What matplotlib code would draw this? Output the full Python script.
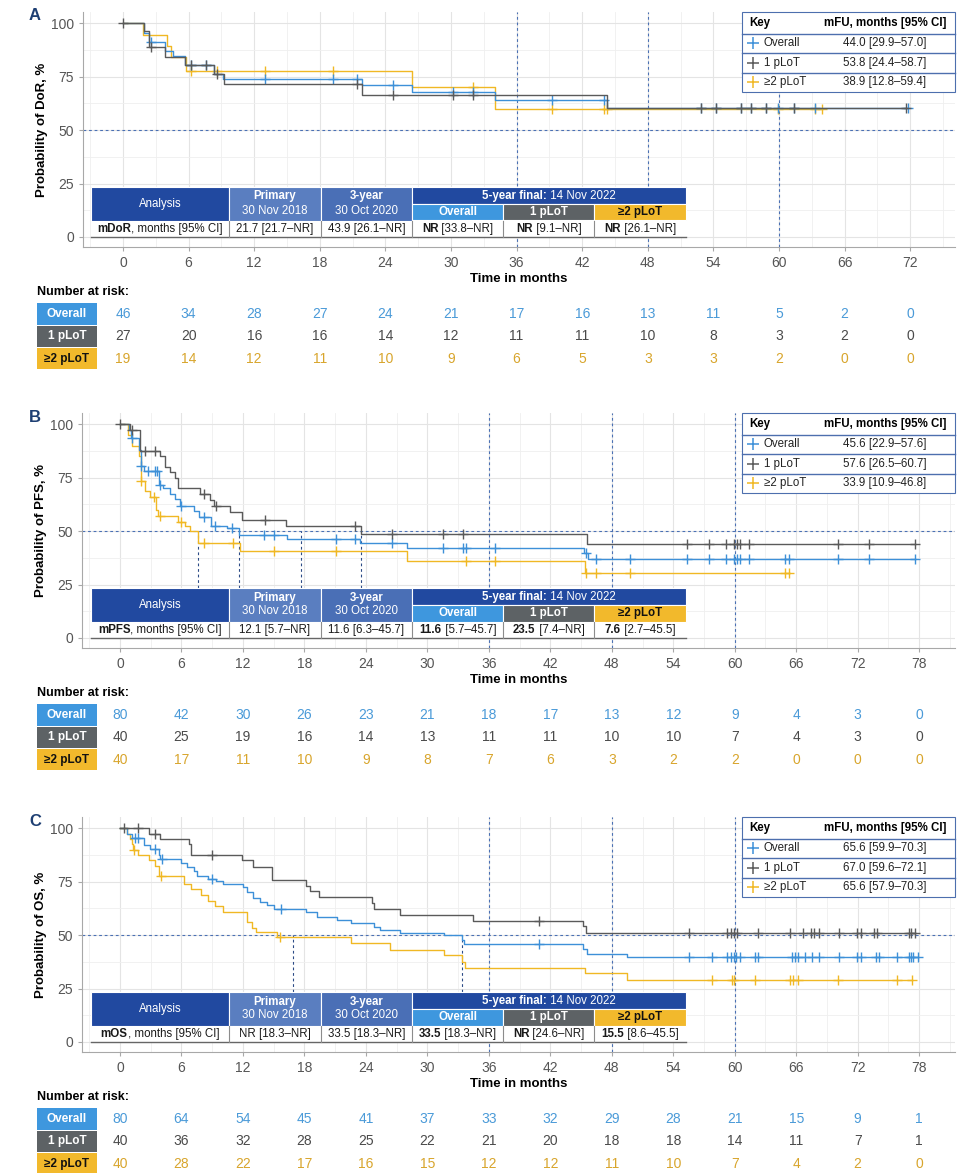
import matplotlib
matplotlib.use("Agg")
import matplotlib.pyplot as plt
import matplotlib.transforms as mtransforms
from matplotlib.patches import Rectangle
import numpy as np

plt.rcParams['font.family'] = ['Liberation Sans', 'DejaVu Sans']
NARROW = ['Liberation Sans Narrow', 'Liberation Sans', 'DejaVu Sans']

# ---------------- data ----------------
groups = ['Overall', '1 pLoT', '≥2 pLoT']

# A: duration of response (event times, survival after event, censor times)
dor_all_t = [1.9, 2.4, 3.8, 4.6, 5.7, 8.3, 9.1, 21.9, 26.4, 34.0, 44.3]
dor_all_s = [95.7, 91.3, 87.0, 84.8, 80.4, 76.1, 73.9, 71.0, 67.8, 64.1, 60.2]
dor_all_c = [2.6, 6.2, 7.6, 13.0, 19.2, 21.4, 24.7, 30.2, 32.0, 39.2, 44.0, 52.9, 54.2,
             56.5, 57.4, 58.8, 59.9, 61.4, 63.3, 71.8]
dor_one_t = [1.9, 2.4, 3.8, 5.7, 8.3, 9.2, 21.9, 44.3]
dor_one_s = [96.3, 88.9, 84.4, 80.6, 76.2, 71.4, 66.6, 60.4]
dor_one_c = [0.0, 2.6, 6.2, 7.6, 8.6, 21.4, 24.7, 30.2, 32.0, 52.9, 54.2, 56.5, 57.4,
             58.8, 61.4, 71.6]
dor_two_t = [1.8, 4.0, 4.4, 5.8, 26.4, 34.0]
dor_two_s = [94.7, 89.5, 84.2, 77.6, 70.0, 59.9]
dor_two_c = [6.2, 8.6, 13.0, 19.2, 32.0, 39.2, 44.0, 44.3, 59.9, 63.3, 63.9]

# B: progression-free survival
pfs_all_t = [0.9, 1.1, 1.9, 2.0, 2.3, 3.8, 4.2, 4.9, 5.4, 5.9, 7.2, 7.7, 8.9, 10.4, 11.6,
             16.3, 23.4, 28.0, 45.3, 45.7]
pfs_all_s = [97.5, 93.7, 88.0, 80.4, 78.1, 71.5, 70.0, 67.5, 65.0, 61.9, 59.5, 56.5, 52.6,
             51.4, 48.4, 46.3, 44.5, 42.3, 39.8, 37.0]
pfs_all_c = [1.2, 2.0, 2.7, 3.4, 3.6, 3.9, 6.0, 8.2, 9.3, 10.9, 14.1, 15.0, 21.1, 22.9, 26.5,
             31.5, 33.5, 33.8, 36.6, 45.5, 46.5, 49.8, 55.3, 57.5, 59.1, 59.9, 60.2, 60.5,
             61.4, 64.9, 65.3, 70.1, 73.1, 77.6]
pfs_one_t = [1.0, 1.95, 3.9, 4.4, 4.9, 5.4, 5.7, 7.8, 8.8, 9.2, 10.7, 11.9, 16.2, 23.5, 45.6]
pfs_one_s = [97.5, 87.5, 85.0, 80.0, 77.5, 75.0, 70.0, 67.3, 64.5, 61.6, 58.8, 55.4, 52.2,
             48.8, 44.1]
pfs_one_c = [0.0, 1.2, 2.4, 3.4, 8.2, 9.4, 14.2, 22.9, 26.5, 31.5, 33.5, 55.3, 57.5, 59.1,
             59.9, 60.2, 60.5, 61.4, 70.1, 73.1, 77.6]
pfs_two_t = [0.8, 1.2, 1.9, 2.0, 2.4, 2.9, 3.5, 3.7, 5.7, 6.3, 6.8, 7.6, 11.7, 28.0, 45.4]
pfs_two_s = [95.0, 90.0, 85.0, 73.7, 68.6, 65.8, 60.0, 57.0, 54.5, 52.5, 50.3, 44.6, 40.6,
             36.1, 30.3]
pfs_two_c = [2.0, 3.3, 3.9, 6.0, 8.2, 11.0, 15.0, 21.1, 33.8, 36.6, 45.5, 46.5, 49.8, 64.9, 65.3]

# C: overall survival
os_all_t = [0.7, 1.2, 2.3, 2.9, 3.8, 3.9, 6.0, 6.5, 7.2, 7.5, 8.6, 9.4, 10.1, 12.0, 12.4,
            13.0, 13.7, 14.3, 15.0, 18.2, 19.2, 21.2, 22.5, 24.8, 25.4, 27.3, 31.6, 33.4,
            33.6, 45.2, 45.6, 49.5]
os_all_s = [97.5, 95.5, 92.0, 90.5, 87.5, 85.8, 84.0, 82.0, 80.0, 77.5, 76.5, 75.5, 73.8,
            72.4, 70.0, 67.5, 65.5, 64.0, 62.4, 60.6, 58.5, 57.0, 55.5, 54.0, 52.5, 51.0,
            50.3, 47.6, 45.8, 43.5, 41.4, 39.9]
os_all_c = [1.5, 1.8, 3.4, 4.1, 9.0, 15.7, 40.9, 55.5, 57.8, 59.2, 59.6, 59.9, 60.1, 60.5,
            62.0, 62.3, 65.6, 65.9, 66.2, 66.9, 67.5, 68.2, 70.2, 71.9, 72.3, 73.8, 74.1,
            75.8, 77.0, 77.2, 77.4, 77.9]
os_one_t = [2.8, 3.9, 6.7, 6.9, 11.9, 13.0, 14.8, 18.2, 18.5, 19.4, 24.6, 24.8, 27.3, 34.5,
            45.2, 45.5]
os_one_s = [97.5, 95.0, 92.5, 87.4, 85.0, 81.9, 76.0, 73.0, 70.5, 67.7, 65.0, 62.4, 59.5,
            56.6, 54.1, 51.0]
os_one_c = [0.4, 1.8, 3.4, 9.0, 40.9, 55.5, 59.2, 59.6, 59.9, 60.2, 62.3, 65.4, 66.7, 67.4,
            67.7, 68.2, 70.2, 71.9, 72.3, 73.6, 73.9, 77.0, 77.2, 77.6]
os_two_t = [0.7, 1.0, 1.2, 1.3, 1.8, 2.8, 3.4, 3.8, 6.2, 6.9, 7.9, 8.6, 9.3, 10.1, 12.4,
            12.9, 13.3, 15.3, 22.5, 26.4, 31.6, 33.4, 33.7, 45.4, 49.5]
os_two_s = [97.5, 95.0, 92.5, 90.0, 87.5, 85.0, 82.5, 77.5, 74.0, 71.5, 69.0, 66.0, 63.5,
            61.0, 56.0, 53.5, 51.5, 49.0, 46.3, 43.0, 40.6, 37.5, 34.4, 32.1, 29.0]
os_two_c = [1.4, 4.0, 15.6, 57.8, 59.7, 59.9, 62.0, 65.4, 65.7, 66.2, 70.1, 75.8, 77.3]

# median drop lines
pfs_medians = [7.6, 11.6, 17.7, 23.5]
os_medians = [16.9, 33.4]

# number at risk
ticks_a = list(range(0, 73, 6))
ticks_bc = list(range(0, 79, 6))
risk_a = [[46, 34, 28, 27, 24, 21, 17, 16, 13, 11, 5, 2, 0],
          [27, 20, 16, 16, 14, 12, 11, 11, 10, 8, 3, 2, 0],
          [19, 14, 12, 11, 10, 9, 6, 5, 3, 3, 2, 0, 0]]
risk_b = [[80, 42, 30, 26, 23, 21, 18, 17, 13, 12, 9, 4, 3, 0],
          [40, 25, 19, 16, 14, 13, 11, 11, 10, 10, 7, 4, 3, 0],
          [40, 17, 11, 10, 9, 8, 7, 6, 3, 2, 2, 0, 0, 0]]
risk_c = [[80, 64, 54, 45, 41, 37, 33, 32, 29, 28, 21, 15, 9, 1],
          [40, 36, 32, 28, 25, 22, 21, 20, 18, 18, 14, 11, 7, 1],
          [40, 28, 22, 17, 16, 15, 12, 12, 11, 10, 7, 4, 2, 0]]

# median follow-up (key)
mfu_a = ['44.0 [29.9–57.0]', '53.8 [24.4–58.7]', '38.9 [12.8–59.4]']
mfu_b = ['45.6 [22.9–57.6]', '57.6 [26.5–60.7]', '33.9 [10.9–46.8]']
mfu_c = ['65.6 [59.9–70.3]', '67.0 [59.6–72.1]', '65.6 [57.9–70.3]']

# analysis table cells: (bold part, regular part)
tab_a = [('mDoR', ', months [95% CI]'), ('', '21.7 [21.7–NR]'), ('', '43.9 [26.1–NR]'),
         ('NR', ' [33.8–NR]'), ('NR', ' [9.1–NR]'), ('NR', ' [26.1–NR]')]
tab_b = [('mPFS', ', months [95% CI]'), ('', '12.1 [5.7–NR]'), ('', '11.6 [6.3–45.7]'),
         ('11.6', ' [5.7–45.7]'), ('23.5', ' [7.4–NR]'), ('7.6', ' [2.7–45.5]')]
tab_c = [('mOS', ', months [95% CI]'), ('', 'NR [18.3–NR]'), ('', '33.5 [18.3–NR]'),
         ('33.5', ' [18.3–NR]'), ('NR', ' [24.6–NR]'), ('15.5', ' [8.6–45.5]')]

# ---------------- style ----------------
BLUE, GREY, GOLD = '#3d90d8', '#5a5a5a', '#f0b824'
NUM_COLORS = ['#4a9ad8', '#4a4a4a', '#d8a52c']
BOX_COLORS = ['#3e97de', '#5d6265', '#f2b92c']
BOX_TEXT = ['white', 'white', '#111111']
DARK_BLUE, PRIM_BLUE, Y3_BLUE = '#2149a0', '#5a7ec0', '#4a6fb6'
DASH = '#4a70b4'
TFS = 8.3
W, H = 958, 1173

fig = plt.figure(figsize=(W / 100, H / 100), dpi=100)
ov = fig.add_axes([0, 0, 1, 1], zorder=10)
ov.set_xlim(0, W)
ov.set_ylim(H, 0)
ov.axis('off')
renderer = fig.canvas.get_renderer()


def surv_at(ev_t, ev_s, t):
    idx = np.searchsorted(ev_t, t, side='right')
    return np.r_[100.0, ev_s][idx]


def draw_curve(ax, ev_t, ev_s, cens, color, z):
    end = max(max(cens), ev_t[-1])
    xs = np.r_[0, ev_t, end]
    ys = np.r_[100, ev_s, ev_s[-1]]
    ax.step(xs, ys, where='post', color=color, lw=1.0, zorder=z)
    ax.plot(cens, surv_at(ev_t, ev_s, cens), ls='none', marker='+', ms=6.5, mew=1.0,
            color=color, zorder=z)


def rich(xc, y, parts, size=TFS, color='#1a1a1a'):
    objs = []
    for s, w in parts:
        if s:
            objs.append(ov.text(0, y, s, fontsize=size, fontweight=w, color=color,
                                va='center', ha='left'))
    widths = [o.get_window_extent(renderer).width for o in objs]
    xx = xc - sum(widths) / 2
    for o, wd in zip(objs, widths):
        o.set_x(xx)
        xx += wd


def box(x0, y0, x1, y1, fc, ec='white'):
    ov.add_patch(Rectangle((x0, y0), x1 - x0, y1 - y0, facecolor=fc, edgecolor=ec, lw=0.8))


def analysis_table(T, cells):
    cx = [90.7, 229.3, 320.7, 412.3, 503.3, 594.3, 686]
    h1, h2, h3 = T + 17.3, T + 33.5, T + 50
    box(cx[0], T, cx[1], h2, DARK_BLUE)
    box(cx[1], T, cx[2], h2, PRIM_BLUE)
    box(cx[2], T, cx[3], h2, Y3_BLUE)
    box(cx[3], T, cx[6], h1, DARK_BLUE)
    for i in range(3):
        box(cx[3 + i], h1, cx[4 + i], h2, BOX_COLORS[i])
    box(cx[0], h2, cx[6], h3, 'white', ec='none')
    ov.plot([cx[0], cx[6]], [h3, h3], color='#666666', lw=1)
    for x in cx[1:-1]:
        ov.plot([x, x], [h2, h3], color='#8c8c8c', lw=0.8)
    mid = [(cx[i] + cx[i + 1]) / 2 for i in range(6)]
    ov.text(mid[0], (T + h2) / 2, 'Analysis', color='white', fontsize=TFS, ha='center', va='center')
    for m, a, b in [(mid[1], 'Primary', '30 Nov 2018'), (mid[2], '3-year', '30 Oct 2020')]:
        ov.text(m, T + 9.5, a, color='white', fontsize=TFS, fontweight='bold', ha='center', va='center')
        ov.text(m, T + 23.5, b, color='white', fontsize=TFS, ha='center', va='center')
    rich((cx[3] + cx[6]) / 2, (T + h1) / 2, [('5-year final:', 'bold'), (' 14 Nov 2022', 'normal')],
         color='white')
    for i in range(3):
        ov.text(mid[3 + i], (h1 + h2) / 2, groups[i], color=BOX_TEXT[i], fontsize=TFS,
                fontweight='bold', ha='center', va='center')
    for m, (b, r) in zip(mid, cells):
        rich(m, (h2 + h3) / 2, [(b, 'bold'), (r, 'normal')])


def key_box(top, vals):
    x0, x1 = 741.7, 955
    rows = [top, top + 21.6, top + 41, top + 60.5, top + 80]
    box(x0, top, x1, rows[-1], 'white', ec='#4d6fae')
    for y in rows[1:-1]:
        ov.plot([x0, x1], [y, y], color='#4d6fae', lw=1)
    ov.text(749, (rows[0] + rows[1]) / 2, 'Key', fontsize=TFS, fontweight='bold', va='center')
    ov.text(885, (rows[0] + rows[1]) / 2, 'mFU, months [95% CI]', fontsize=TFS,
            fontweight='bold', va='center', ha='center')
    for i, c in enumerate([BLUE, GREY, GOLD]):
        yc = (rows[i + 1] + rows[i + 2]) / 2
        ov.plot([753], [yc], marker='+', ms=8, mew=1.1, color=c)
        ov.text(764, yc, groups[i], fontsize=TFS, va='center', color='#222222')
        ov.text(885, yc, vals[i], fontsize=TFS, va='center', ha='center', color='#222222')


def risk_table(ax, bottom, ticks, rows):
    tr = mtransforms.blended_transform_factory(ax.transData, ov.transData)
    ov.text(37, bottom + 45, 'Number at risk:', fontsize=9, fontweight='bold', va='center',
            family=NARROW)
    for i, vals in enumerate(rows):
        y = bottom + 67 + 22.3 * i
        ov.add_patch(Rectangle((37, y - 10.7), 60, 21.4, facecolor=BOX_COLORS[i], edgecolor='none'))
        ov.text(67, y, groups[i], color=BOX_TEXT[i], fontsize=8.5, fontweight='bold',
                ha='center', va='center', family=NARROW)
        for t, v in zip(ticks, vals):
            ov.text(t, y, str(v), transform=tr, ha='center', va='center', fontsize=10,
                    color=NUM_COLORS[i], family=NARROW)


def panel(top, bottom, left, xlim, ticks, letter, ylabel, curves, medians, cells, mfu, risk):
    ax = fig.add_axes([left / W, 1 - bottom / H, (955 - left) / W, (bottom - top) / H])
    ax.set_xlim(*xlim)
    ax.set_ylim(-4.7, 105.3)
    ax.set_xticks(ticks)
    ax.set_xticks(np.arange(-3, xlim[1], 6), minor=True)
    ax.set_yticks([0, 25, 50, 75, 100])
    ax.set_yticks([12.5, 37.5, 62.5, 87.5], minor=True)
    ax.grid(which='major', color='#e4e4e4', lw=0.8)
    ax.grid(which='minor', color='#efefef', lw=0.6)
    ax.set_axisbelow(True)
    for s in ['top', 'right']:
        ax.spines[s].set_visible(False)
    for s in ['left', 'bottom']:
        ax.spines[s].set_color('#a8a8a8')
    ax.tick_params(which='major', length=3, color='#a8a8a8', labelcolor='#555555', labelsize=10)
    ax.tick_params(which='minor', length=0)
    for lab in ax.get_xticklabels() + ax.get_yticklabels():
        lab.set_family(NARROW)
    ax.set_ylabel(ylabel, fontsize=9.5, fontweight='bold', labelpad=2)
    ax.set_xlabel('Time in months', fontsize=9.5, fontweight='bold', labelpad=2)

    ax.axhline(50, color=DASH, ls=(0, (2.5, 2.5)), lw=0.8, zorder=2)
    for v in [36, 48, 60]:
        ax.axvline(v, color=DASH, ls=(0, (2.5, 2.5)), lw=0.8, zorder=2)
    for m in medians:
        ax.plot([m, m], [0, 50], color='#2c4b86', ls=(0, (2.5, 2.5)), lw=0.8, zorder=2)

    for (et, es, ec), c, z in zip(curves, [BLUE, GREY, GOLD], [4, 5, 3]):
        draw_curve(ax, et, es, ec, c, z)

    ov.text(29, top + 4, letter, fontsize=12, fontweight='bold', color='#1e3f73', va='center')
    analysis_table(bottom - 60, cells)
    key_box(top, mfu)
    risk_table(ax, bottom, ticks, risk)


panel(12, 247, 83, (-3.66, 76.1), ticks_a, 'A', 'Probability of DoR, %',
      [(dor_all_t, dor_all_s, dor_all_c), (dor_one_t, dor_one_s, dor_one_c),
       (dor_two_t, dor_two_s, dor_two_c)], [], tab_a, mfu_a, risk_a)
panel(413, 648, 82, (-3.71, 81.5), ticks_bc, 'B', 'Probability of PFS, %',
      [(pfs_all_t, pfs_all_s, pfs_all_c), (pfs_one_t, pfs_one_s, pfs_one_c),
       (pfs_two_t, pfs_two_s, pfs_two_c)], pfs_medians, tab_b, mfu_b, risk_b)
panel(817, 1052, 82, (-3.71, 81.5), ticks_bc, 'C', 'Probability of OS, %',
      [(os_all_t, os_all_s, os_all_c), (os_one_t, os_one_s, os_one_c),
       (os_two_t, os_two_s, os_two_c)], os_medians, tab_c, mfu_c, risk_c)

fig.savefig('out.png', dpi=100)
